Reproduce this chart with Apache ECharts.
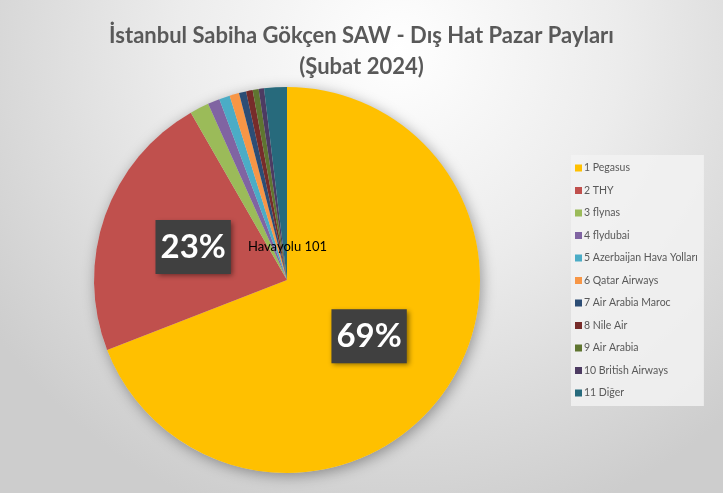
<!DOCTYPE html>
<html>
<head>
<meta charset="utf-8">
<script src="https://cdn.jsdelivr.net/npm/echarts@6/dist/echarts.min.js"></script>
<style>
  html, body { margin: 0; padding: 0; }
  #chart { width: 723px; height: 493px; }
</style>
</head>
<body>
<div id="chart"></div>
<script>
// Market shares of international carriers at SAW, February 2024 (%)
const airlines = [
  '1 Pegasus', '2 THY', '3 flynas', '4 flydubai', '5 Azerbaijan Hava Yolları',
  '6 Qatar Airways', '7 Air Arabia Maroc', '8 Nile Air', '9 Air Arabia',
  '10 British Airways', '11 Diğer'
];
const shares = [69.1, 22.6, 1.6, 1.0, 0.9, 0.8, 0.6, 0.55, 0.5, 0.45, 1.9];
const sliceColors = [
  '#FFC000', '#C0504D', '#9BBB59', '#8064A2', '#4BACC6', '#F79646',
  '#2C4D75', '#772C2A', '#5F7530', '#4D3B62', '#276A7C'
];
// Only the two largest carriers carry a percentage label
const labelledCount = 2;

const chart = echarts.init(document.getElementById('chart'));

const pieData = airlines.map((name, i) => ({
  name: name,
  value: shares[i],
  itemStyle: { color: sliceColors[i] },
  label: { show: i < labelledCount }
}));

chart.setOption({
  backgroundColor: {
    type: 'radial', x: 0.55, y: 0.1, r: 1.0,
    colorStops: [
      { offset: 0, color: '#ffffff' },
      { offset: 0.45, color: '#ececec' },
      { offset: 1, color: '#cdcdcd' }
    ]
  },
  title: {
    text: 'İstanbul Sabiha Gökçen SAW - Dış Hat Pazar Payları\n(Şubat 2024)',
    left: 'center',
    top: 15,
    textStyle: {
      fontFamily: 'Lato',
      fontWeight: 'bold',
      fontSize: 22,
      lineHeight: 31,
      color: '#595959'
    }
  },
  legend: {
    orient: 'vertical',
    left: 571,
    top: 155,
    padding: [6, 6, 6, 4],
    backgroundColor: 'rgba(242,242,242,0.85)',
    icon: 'rect',
    itemWidth: 7,
    itemHeight: 7,
    itemGap: 8.5,
    data: airlines,
    textStyle: {
      fontFamily: 'Lato',
      fontSize: 10.5,
      lineHeight: 14,
      color: '#595959',
      padding: [0, 0, 0, -3]
    }
  },
  graphic: [{
    type: 'text',
    left: 248,
    top: 240,
    z: 100,
    style: {
      text: 'Havayolu 101',
      fontFamily: 'Lato',
      fontSize: 13,
      fill: '#000000'
    }
  }],
  series: [
    {
      // soft drop shadow under the pie
      type: 'pie',
      name: 'shadow',
      silent: true,
      center: [287, 280],
      radius: 193,
      z: 1,
      label: { show: false },
      labelLine: { show: false },
      data: [{ value: 1, name: '', itemStyle: { color: '#d8d8d8', shadowBlur: 14, shadowColor: 'rgba(0,0,0,0.35)', shadowOffsetX: 2, shadowOffsetY: 3 } }]
    },
    {
      type: 'pie',
      name: 'Pazar Payı',
      center: [287, 280],
      radius: 193,
      startAngle: 90,
      clockwise: true,
      z: 2,
      avoidLabelOverlap: false,
      itemStyle: { borderWidth: 0 },
      label: {
        position: 'inside',
        formatter: p => Math.round(p.percent) + '%',
        fontFamily: 'Lato',
        fontWeight: 'bold',
        fontSize: 33,
        color: '#ffffff',
        backgroundColor: '#404040',
        padding: [11, 5, 10, 5],
        shadowBlur: 5,
        shadowColor: 'rgba(0,0,0,0.45)',
        shadowOffsetX: 2,
        shadowOffsetY: 2
      },
      labelLine: { show: false },
      emphasis: { disabled: true },
      data: pieData
    }
  ]
});
</script>
</body>
</html>
